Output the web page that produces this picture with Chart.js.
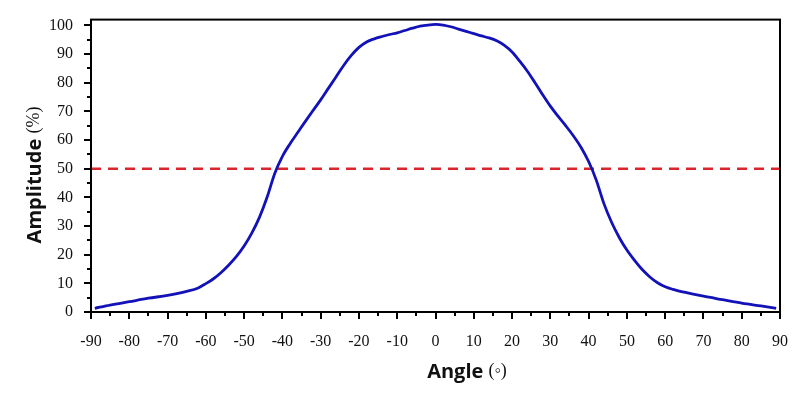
<!DOCTYPE html>
<html>
<head>
<meta charset="utf-8">
<script src="https://cdn.jsdelivr.net/npm/chart.js@4/dist/chart.umd.min.js"></script>
<style>
  html, body { margin: 0; padding: 0; background: #fff; }
  #wrap { width: 800px; height: 395px; position: relative; }
</style>
</head>
<body>
<div id="wrap"><canvas id="beam"></canvas></div>
<script>
// angles (deg) and amplitude (%)
const angles = [-89, -85, -80, -75, -70, -65, -62, -60, -58, -56, -54, -52, -50, -48, -46, -44, -42, -40,
  -38, -36, -34, -32, -30, -28, -26, -24, -22, -20, -18, -16, -14, -12, -10, -8, -6, -4, -2, 0,
  2, 4, 6, 8, 10, 12, 14, 16, 18, 20, 22, 24, 26, 28, 30, 32, 34, 36, 38, 40, 42, 44, 46, 48,
  50, 52, 54, 56, 58, 60, 62, 65, 70, 75, 80, 85, 89];
const amplitude = [1.3, 2.4, 3.6, 4.8, 5.8, 7.2, 8.4, 9.9, 11.6, 13.8, 16.4, 19.4, 23.0, 27.5, 33.0, 40.0, 48.3, 54.3,
  58.7, 62.6, 66.5, 70.3, 74.0, 78.0, 82.0, 86.0, 89.5, 92.3, 94.2, 95.3, 96.1, 96.8, 97.4, 98.2, 99.0, 99.7, 100.1, 100.3,
  100.1, 99.5, 98.7, 97.9, 97.1, 96.3, 95.6, 94.6, 93.0, 90.7, 87.5, 84.0, 80.0, 75.8, 71.8, 68.3, 65.0, 61.5, 57.5, 52.5, 46.0, 37.8, 31.3, 26.0,
  21.6, 18.0, 14.8, 12.2, 10.2, 8.8, 7.9, 6.9, 5.5, 4.3, 3.1, 2.1, 1.3];
const halfPower = 50;
const xRange = [-90, 90];
const yRange = [0, 102];
const xTitle = ['Angle', '(\u25E6)'];
const yTitle = ['Amplitude', '(%)'];

const sansBold = '700 20px "Open Sans", sans-serif';
const serifReg = '18px "Liberation Serif", serif';

// main word in bold sans, unit in plain serif, centred on (cx, cy)
function drawTitle(ctx, parts, cx, cy, angle) {
  ctx.save();
  ctx.translate(cx, cy);
  ctx.rotate(angle);
  ctx.font = sansBold;
  const w1 = ctx.measureText(parts[0] + ' ').width;
  ctx.font = serifReg;
  const w2 = ctx.measureText(parts[1]).width;
  const sx = -(w1 + w2) / 2;
  ctx.textAlign = 'left';
  ctx.textBaseline = 'middle';
  ctx.fillStyle = '#111';
  ctx.font = sansBold;
  ctx.fillText(parts[0] + ' ', sx, 0);
  ctx.font = serifReg;
  ctx.fillText(parts[1], sx + w1, -1);
  ctx.restore();
}

// frame, major/minor tick marks and axis titles
const frameAndTicks = {
  id: 'frameAndTicks',
  afterDraw(chart) {
    const { ctx, chartArea: a, scales: { x, y } } = chart;
    ctx.save();
    ctx.strokeStyle = '#000';
    ctx.lineWidth = 2;
    ctx.strokeRect(a.left, a.top, a.right - a.left, a.bottom - a.top);
    ctx.beginPath();
    for (let v = xRange[0]; v <= xRange[1]; v += 5) {
      const px = Math.round(x.getPixelForValue(v));
      const len = v % 10 === 0 ? 7 : 4;
      ctx.moveTo(px, a.bottom);
      ctx.lineTo(px, a.bottom + len);
    }
    for (let v = 0; v <= 100; v += 5) {
      const py = Math.round(y.getPixelForValue(v));
      const len = v % 10 === 0 ? 7 : 4;
      ctx.moveTo(a.left, py);
      ctx.lineTo(a.left - len, py);
    }
    ctx.stroke();
    ctx.restore();

    drawTitle(ctx, xTitle, 467, 372, 0);
    drawTitle(ctx, yTitle, 35, 175, -Math.PI / 2);
  }
};

const tickFont = { family: '"Liberation Serif", "Times New Roman", serif', size: 16 };

new Chart(document.getElementById('beam'), {
  type: 'line',
  data: {
    datasets: [
      {
        data: angles.map((a, i) => ({ x: a, y: amplitude[i] })),
        borderColor: '#1212b8',
        borderWidth: 2.8,
        pointRadius: 0,
        cubicInterpolationMode: 'monotone',
        fill: false
      },
      {
        data: xRange.map(a => ({ x: a, y: halfPower })),
        borderColor: '#d9262c',
        borderWidth: 2.5,
        borderDash: [10, 7],
        pointRadius: 0,
        fill: false
      }
    ]
  },
  options: {
    responsive: true,
    maintainAspectRatio: false,
    animation: false,
    layout: { padding: { left: 0, right: 17, top: 19, bottom: 0 } },
    plugins: { legend: { display: false }, tooltip: { enabled: false } },
    scales: {
      x: {
        type: 'linear',
        min: xRange[0],
        max: xRange[1],
        grid: { display: false },
        border: { display: false },
        ticks: { stepSize: 10, color: '#111', font: tickFont, padding: 12, maxRotation: 0 },
        afterFit(s) { s.height = 83; }
      },
      y: {
        min: yRange[0],
        max: yRange[1],
        grid: { display: false },
        border: { display: false },
        ticks: { stepSize: 10, includeBounds: false, color: '#111', font: tickFont, padding: 10 },
        afterFit(s) { s.width = 91; }
      }
    }
  },
  plugins: [frameAndTicks]
});
</script>
</body>
</html>
